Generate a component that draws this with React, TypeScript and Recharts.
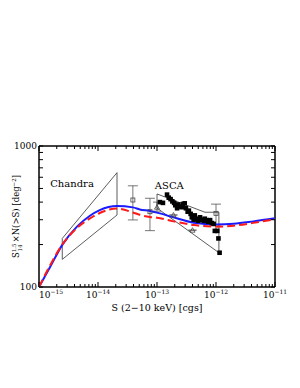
import React from 'react';
import { ComposedChart, Scatter, XAxis, YAxis, ErrorBar, ReferenceDot } from 'recharts';

const FONT = '"DejaVu Serif", serif';

// axis ticks
const X_MAJOR = [1e-15, 1e-14, 1e-13, 1e-12, 1e-11];
const X_LABELS = ['\u221215', '\u221214', '\u221213', '\u221212', '\u221211'];
const X_MINOR_MANT = [2, 3, 4, 5, 6, 7, 8, 9];
const Y_TICKS = [100, 200, 300, 400, 500, 600, 700, 800, 900, 1000];
const Y_LABELS: Record<number, string> = { 100: '100', 1000: '1000' };

// model curves: [S, S^1.5 N(>S)]
const blueCurve = [
  [1e-15, 100], [1.55e-15, 139], [2.48e-15, 199], [4.4e-15, 268], [7.2e-15, 319],
  [1.07e-14, 351], [2.1e-14, 375], [3.9e-14, 367], [5.1e-14, 355], [7.6e-14, 346],
  [1e-13, 337], [1.9e-13, 312], [4.2e-13, 286], [1e-12, 278], [2e-12, 281],
  [4.3e-12, 292], [1e-11, 307],
];
const redCurve = [
  [1e-15, 100], [1.55e-15, 143], [2.48e-15, 200], [4.4e-15, 262], [7.2e-15, 305],
  [1.07e-14, 335], [2.1e-14, 360], [3.9e-14, 338], [5.1e-14, 325], [7.6e-14, 314],
  [1e-13, 310], [1.9e-13, 292], [4.2e-13, 275], [1e-12, 268], [2e-12, 272],
  [4.3e-12, 285], [1e-11, 302],
];

// survey boxes
const chandraBox = [
  [2.48e-15, 221], [2.1e-14, 647], [2.1e-14, 324], [2.48e-15, 157], [2.48e-15, 221],
];
const ascaBox = [
  [1e-13, 457], [6.5e-13, 339], [1.12e-12, 339], [1.12e-12, 175], [1e-13, 363], [1e-13, 457],
];

// data points
const ascaSquares = [
  [1.12e-13, 400], [1.26e-13, 395], [1.48e-13, 452], [1.58e-13, 430], [1.7e-13, 420],
  [1.82e-13, 405], [1.95e-13, 395], [2.04e-13, 380], [2.19e-13, 362], [2.29e-13, 385],
  [2.45e-13, 372], [2.63e-13, 368], [2.75e-13, 388], [2.95e-13, 392], [3.09e-13, 362],
  [3.31e-13, 342], [3.47e-13, 348], [3.72e-13, 330], [3.89e-13, 312], [4.17e-13, 300],
  [4.37e-13, 322], [4.68e-13, 305], [5.01e-13, 295], [5.37e-13, 312], [5.75e-13, 300],
  [6.17e-13, 294], [6.46e-13, 305], [6.92e-13, 298], [7.41e-13, 290], [7.94e-13, 298],
  [8.51e-13, 284], [9.12e-13, 280], [9.55e-13, 250], [1.05e-12, 250], [1.1e-12, 221],
  [1.15e-12, 175],
];
// [S, value, low, high]
const openSquares = [
  [3.9e-14, 414, 299, 522],
  [7.6e-14, 342, 251, 426],
  [1e-12, 333, 275, 387],
];
const openTriangles = [
  [1e-13, 368, 345, 400],
  [1.9e-13, 324, 324, 324],
  [4.0e-13, 253, 253, 253],
];

const pts = (a: number[][]) => a.map(([x, y]) => ({ x, y }));
const errPts = (a: number[][]) => a.map(([x, y, lo, hi]) => ({ x, y, err: [y - lo, hi - y] }));

const isMajor = (v: number) => Math.abs(Math.log10(v) - Math.round(Math.log10(v))) < 1e-6;
const xTicks = [
  ...X_MAJOR.slice(0, -1).flatMap((d) => [d, ...X_MINOR_MANT.map((m) => m * d)]),
  X_MAJOR[X_MAJOR.length - 1],
];

const BottomTick = (props: any) => {
  const { x, y, payload, index } = props;
  const v = payload.value;
  const major = isMajor(v);
  const i = X_MAJOR.findIndex((m) => Math.abs(Math.log10(m) - Math.log10(v)) < 1e-6);
  return (
    <g>
      <line x1={x} x2={x} y1={y} y2={y - (major ? 5 : 3)} stroke="#000" strokeWidth={1} />
      {major && i >= 0 && (
        <text x={x} y={y + 11} textAnchor={index === 0 ? 'start' : 'middle'} fontFamily={FONT} fontSize={9} fill="#000">
          <tspan>10</tspan>
          <tspan dy={-4} fontSize={6}>{X_LABELS[i]}</tspan>
        </text>
      )}
    </g>
  );
};

const TopTick = (props: any) => {
  const { x, y, payload } = props;
  const major = isMajor(payload.value);
  return <line x1={x} x2={x} y1={y} y2={y + (major ? 5 : 3)} stroke="#000" strokeWidth={1} />;
};

const LeftTick = (props: any) => {
  const { x, y, payload } = props;
  const v = payload.value;
  return (
    <g>
      <line x1={x} x2={x + 4} y1={y} y2={y} stroke="#000" strokeWidth={1} />
      {Y_LABELS[v] && (
        <text x={x - 2} y={y + 3} textAnchor="end" fontFamily={FONT} fontSize={9} fill="#000">
          {Y_LABELS[v]}
        </text>
      )}
    </g>
  );
};

const RightTick = (props: any) => {
  const { x, y } = props;
  return <line x1={x} x2={x - 4} y1={y} y2={y} stroke="#000" strokeWidth={1} />;
};

const noDot = () => <g />;
const filledSquare = (p: any) => <rect x={p.cx - 2.3} y={p.cy - 2.3} width={4.6} height={4.6} fill="#000" />;
const openSquare = (p: any) => (
  <rect x={p.cx - 2} y={p.cy - 2} width={4} height={4} fill="none" stroke="#444" strokeWidth={0.8} />
);
const openTriangle = (p: any) => (
  <polygon
    points={`${p.cx},${p.cy - 2.5} ${p.cx - 2.5},${p.cy + 2} ${p.cx + 2.5},${p.cy + 2}`}
    fill="none"
    stroke="#444"
    strokeWidth={0.8}
  />
);

const textLabel = (s: string) => (p: any) => (
  <text x={p.cx} y={p.cy} fontFamily={FONT} fontSize={10} fill="#000">{s}</text>
);

const YLabel = (props: any) => {
  const vb = props.viewBox;
  const cx = vb.x + 11;
  const cy = vb.y + vb.height / 2;
  return (
    <text x={cx} y={cy} transform={`rotate(-90, ${cx}, ${cy})`} textAnchor="middle" fontFamily={FONT} fontSize={8.5} fill="#000">
      <tspan>S</tspan>
      <tspan dy={-3.5} fontSize={5.5}>1.5</tspan>
      <tspan dx={-8} dy={6.5} fontSize={5.5}>14</tspan>
      <tspan dy={-3} dx={2}>{'\u00d7N(>S)  [deg'}</tspan>
      <tspan dy={-3.5} fontSize={5.5}>{'\u22122'}</tspan>
      <tspan dy={3.5}>]</tspan>
    </text>
  );
};

const XLabel = (props: any) => {
  const vb = props.viewBox;
  return (
    <text x={vb.x + vb.width / 2} y={vb.y + 24} textAnchor="middle" fontFamily={FONT} fontSize={9.5} fill="#000">
      {'S (2\u221210 keV) [cgs]'}
    </text>
  );
};

const App = () => {
  const axisLine = { stroke: '#000', strokeWidth: 1.5 };
  return (
    <div style={{ position: 'absolute', left: 0, top: 0, width: 300, height: 388, background: '#fff' }}>
      <ComposedChart width={300} height={388} margin={{ top: 136, right: 15, bottom: 61, left: 8 }}>
        <XAxis
          xAxisId="b"
          dataKey="x"
          type="number"
          scale="log"
          domain={[1e-15, 1e-11]}
          allowDataOverflow
          ticks={xTicks}
          interval={0}
          tick={<BottomTick />}
          tickLine={false}
          tickSize={0}
          tickMargin={0}
          axisLine={axisLine}
          height={40}
          label={{ content: <XLabel /> }}
        />
        <XAxis
          xAxisId="t"
          orientation="top"
          dataKey="x"
          type="number"
          scale="log"
          domain={[1e-15, 1e-11]}
          allowDataOverflow
          ticks={xTicks}
          interval={0}
          tick={<TopTick />}
          tickLine={false}
          tickSize={0}
          tickMargin={0}
          axisLine={axisLine}
          height={10}
        />
        <YAxis
          yAxisId="l"
          dataKey="y"
          type="number"
          scale="log"
          domain={[100, 1000]}
          allowDataOverflow
          ticks={Y_TICKS}
          interval={0}
          tick={<LeftTick />}
          tickLine={false}
          tickSize={0}
          tickMargin={0}
          axisLine={axisLine}
          width={31}
          label={{ content: <YLabel /> }}
        />
        <YAxis
          yAxisId="r"
          orientation="right"
          dataKey="y"
          type="number"
          scale="log"
          domain={[100, 1000]}
          allowDataOverflow
          ticks={Y_TICKS}
          interval={0}
          tick={<RightTick />}
          tickLine={false}
          tickSize={0}
          tickMargin={0}
          axisLine={axisLine}
          width={10}
        />

        <Scatter xAxisId="b" yAxisId="l" data={pts(chandraBox)} shape={noDot}
          line={{ stroke: '#333', strokeWidth: 0.8 }} isAnimationActive={false} />
        <Scatter xAxisId="b" yAxisId="l" data={pts(ascaBox)} shape={noDot}
          line={{ stroke: '#333', strokeWidth: 0.8 }} isAnimationActive={false} />

        <Scatter xAxisId="b" yAxisId="l" data={pts(blueCurve)} shape={noDot} lineJointType="monotoneX"
          line={{ stroke: '#1a1aff', strokeWidth: 2 }} isAnimationActive={false} />
        <Scatter xAxisId="b" yAxisId="l" data={pts(redCurve)} shape={noDot} lineJointType="monotoneX"
          line={{ stroke: '#ff1a1a', strokeWidth: 2, strokeDasharray: '8 4' }} isAnimationActive={false} />

        <Scatter xAxisId="b" yAxisId="l" data={errPts(openSquares)} shape={openSquare} isAnimationActive={false}>
          <ErrorBar dataKey="err" direction="y" width={5} stroke="#555" strokeWidth={0.8} />
        </Scatter>
        <Scatter xAxisId="b" yAxisId="l" data={errPts(openTriangles)} shape={openTriangle} isAnimationActive={false}>
          <ErrorBar dataKey="err" direction="y" width={4} stroke="#555" strokeWidth={0.8} />
        </Scatter>
        <Scatter xAxisId="b" yAxisId="l" data={pts(ascaSquares)} shape={filledSquare} isAnimationActive={false} />

        <ReferenceDot xAxisId="b" yAxisId="l" x={1.55e-15} y={512} r={0} shape={textLabel('Chandra')} />
        <ReferenceDot xAxisId="b" yAxisId="l" x={9.2e-14} y={495} r={0} shape={textLabel('ASCA')} />
      </ComposedChart>
    </div>
  );
};

export default App;
